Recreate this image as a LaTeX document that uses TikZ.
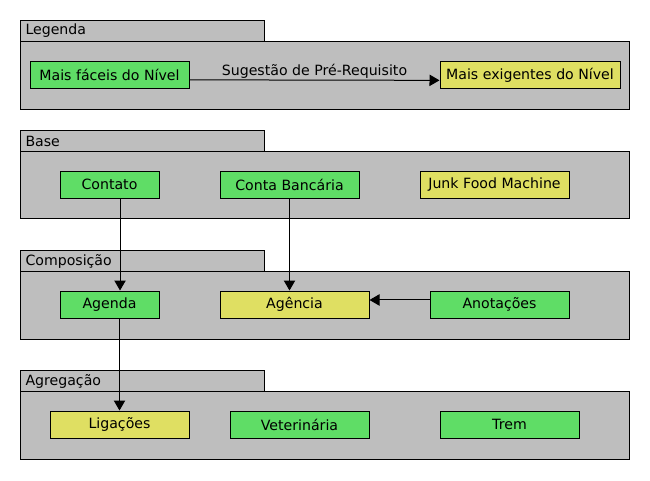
\documentclass[tikz,border=0pt]{standalone}
\usepackage{fontspec}
\setmainfont{DejaVu Sans}
\usetikzlibrary{arrows.meta}

\definecolor{panelgrey}{HTML}{BEBEBE}
\definecolor{easygreen}{HTML}{5FDD66}
\definecolor{hardyellow}{HTML}{DFDF62}

\begin{document}
\begin{tikzpicture}[x=0.75pt, y=-0.75pt, line width=0.75pt, font=\fontsize{10.6}{12}\selectfont,
    panel/.style={ draw=black, fill=panelgrey },
    panel-label/.style={ anchor=west, inner sep=0pt },
    easy-node/.style={ rectangle, draw=black, fill=easygreen, minimum height=20.25pt, inner sep=0pt },
    hard-node/.style={ rectangle, draw=black, fill=hardyellow, minimum height=20.25pt, inner sep=0pt },
    prereq/.style={ -{Triangle[length=7.5pt,width=8.5pt]} } ]
    \useasboundingbox (0,0) rectangle (650,480);

    % Panels
    \draw[panel] (20,20) rectangle (264,41);
    \draw[panel] (20,41) rectangle (629,109);
    \node[panel-label] (Legenda) at (25,31) {Legenda};

    \draw[panel] (20,130) rectangle (264,151);
    \draw[panel] (20,151) rectangle (629,218);
    \node[panel-label] (Base) at (25,141) {Base};

    \draw[panel] (20,250) rectangle (264,271);
    \draw[panel] (20,271) rectangle (629,339);
    \node[panel-label] (Composicao) at (25,261) {Composição};

    \draw[panel] (20,370) rectangle (264,391);
    \draw[panel] (20,391) rectangle (629,459);
    \node[panel-label] (Agregacao) at (25,381) {Agregação};

    % Nodes
    \node[easy-node, minimum width=119.25pt] (Faceis) at (109.5, 74.5) {Mais fáceis do Nível};
    \node[hard-node, minimum width=135pt] (Exigentes) at (530, 75) {Mais exigentes do Nível};

    \node[easy-node, minimum width=74.25pt] (Contato) at (109.5, 184.5) {Contato};
    \node[easy-node, minimum width=104.25pt] (Conta) at (289.5, 184.5) {Conta Bancária};
    \node[hard-node, minimum width=111.75pt] (Junk) at (494.5, 184.5) {Junk Food Machine};

    \node[easy-node, minimum width=74.25pt] (Agenda) at (109.5, 304.5) {Agenda};
    \node[hard-node, minimum width=111.75pt] (Agencia) at (294.5, 304.5) {Agência};
    \node[easy-node, minimum width=104.25pt] (Anotacoes) at (499.5, 304.5) {Anotações};

    \node[hard-node, minimum width=104.25pt] (Ligacoes) at (119.5, 424.5) {Ligações};
    \node[easy-node, minimum width=104.25pt] (Veterinaria) at (299.5, 424.5) {Veterinária};
    \node[easy-node, minimum width=104.25pt] (Trem) at (509.5, 424.5) {Trem};

    % Edges
    \draw[prereq] ([yshift=-4pt]Faceis.east) -- node[above, inner sep=1pt] (Sugestao) {Sugestão de Pré-Requisito} ([yshift=-4pt]Exigentes.west);
    \draw[prereq] ([xshift=7.9pt]Contato.south) -- ([xshift=7.9pt]Agenda.north);
    \draw[prereq] (Conta.south) -- (Conta.south |- Agencia.north);
    \draw[prereq] ([yshift=3.4pt]Anotacoes.west) -- ([yshift=3.4pt]Agencia.east);
    \draw[prereq] (Ligacoes.north |- Agenda.south) -- (Ligacoes.north);
\end{tikzpicture}
\end{document}
